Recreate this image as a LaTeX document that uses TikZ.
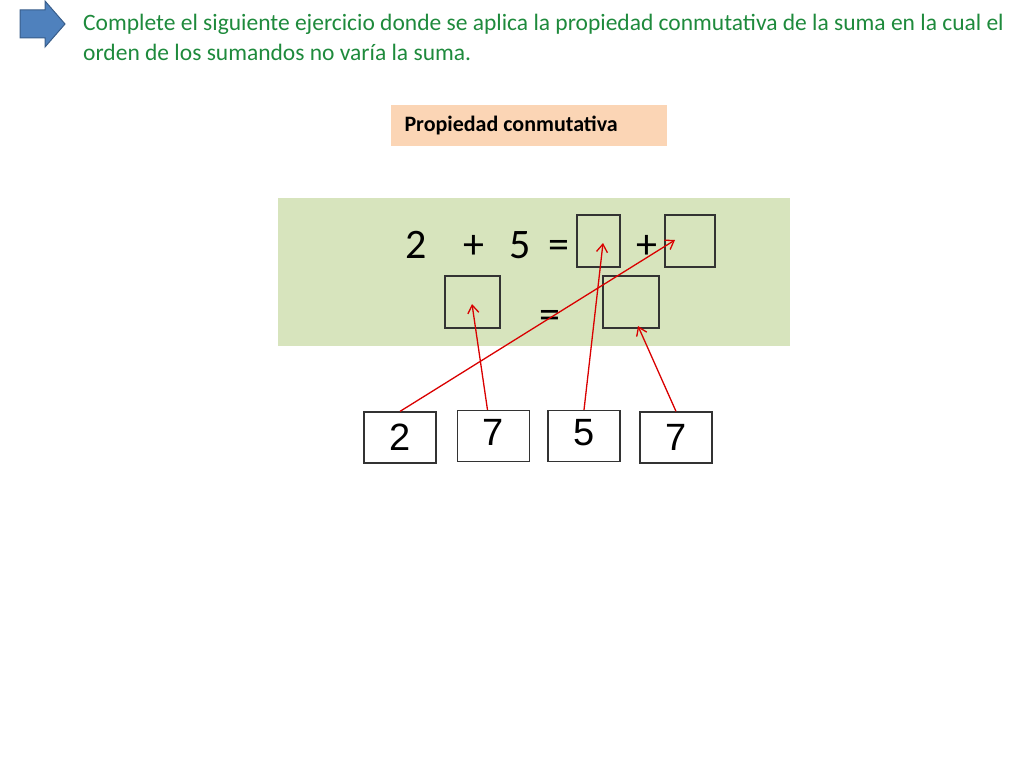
\documentclass[tikz,border=0pt]{standalone}
\usetikzlibrary{arrows.meta}
\usepackage{fontspec}
\setmainfont{Carlito}
\newfontfamily\arialf{Liberation Sans}
\definecolor{titlegreen}{HTML}{1E8A3C}
\definecolor{peach}{HTML}{FBD5B5}
\definecolor{panel}{HTML}{D7E4BD}
\definecolor{arrowblue}{HTML}{4F81BD}
\definecolor{arrowedge}{HTML}{385D8A}
\begin{document}
\begin{tikzpicture}[x=1pt,y=-1pt,
  blank/.style={draw=black!80,line width=1.2pt,fill=panel,minimum width=#1,minimum height=52pt,inner sep=0pt},
  numbox/.style={draw=black!80,line width=1.2pt,fill=white,minimum width=72pt,minimum height=51pt,inner sep=0pt,font=\arialf\fontsize{38}{38}\selectfont},
  eq/.style={font=\fontsize{42}{42}\selectfont,inner sep=0pt,anchor=base},
  link/.style={red!85!black,line width=1.3pt,-{Straight Barb[length=8pt,width=11pt]}}]
\useasboundingbox (0,0) rectangle (1024,768);
\path[fill=arrowblue,draw=arrowedge,line width=1pt]
  (20,10) -- (45,10) -- (45,1) -- (65,24) -- (45,47) -- (45,38) -- (20,38) -- cycle;
\node[anchor=north west,text width=930pt,align=flush left,inner sep=0pt,text=titlegreen,font=\fontsize{23.5}{30}\selectfont] (title) at (83,14)
  {Complete el siguiente ejercicio donde se aplica la propiedad conmutativa de la suma en la cual el orden de los sumandos no varía la suma.};
\node[fill=peach,anchor=north west,minimum width=276pt,minimum height=41pt,inner sep=0pt] (prop) at (391,105) {};
\node[anchor=west,font=\bfseries\fontsize{22}{22}\selectfont] (proptxt) at (401,125.5) {Propiedad conmutativa};
\node[fill=panel,anchor=north west,minimum width=512pt,minimum height=148pt,inner sep=0pt] (panelbox) at (278,198) {};
\node[eq] (t2) at (416,258) {2};
\node[eq] (tp) at (474,258) {+};
\node[eq] (t5) at (520,258) {5};
\node[eq] (te) at (559,258) {=};
\node[eq] (tp2) at (647,258) {+};
\node[eq] (te2) at (550,328) {=};
\node[blank=43pt] (ba) at (598.5,241) {};
\node[blank=50pt] (bb) at (690,241) {};
\node[blank=55pt] (bc) at (472.5,302) {};
\node[blank=56pt] (bd) at (631,302) {};
\node[numbox] (n2) at (400,437.5) {2};
\node[numbox] (n7a) at (493.5,436) {7\rule[-7pt]{0pt}{0pt}};
\node[numbox] (n5) at (584,436) {5\rule[-7pt]{0pt}{0pt}};
\node[numbox] (n7b) at (676,437.5) {7};
\coordinate (e1) at (675,240);
\coordinate (e2) at (472,304);
\coordinate (e3) at (603,243);
\coordinate (e4) at (638,326);
\draw[link] (n2.north) -- (e1);
\draw[link] ([xshift=-6pt]n7a.north) -- (e2);
\draw[link] (n5.north) -- (e3);
\draw[link] (n7b.north) -- (e4);
\end{tikzpicture}
\end{document}
